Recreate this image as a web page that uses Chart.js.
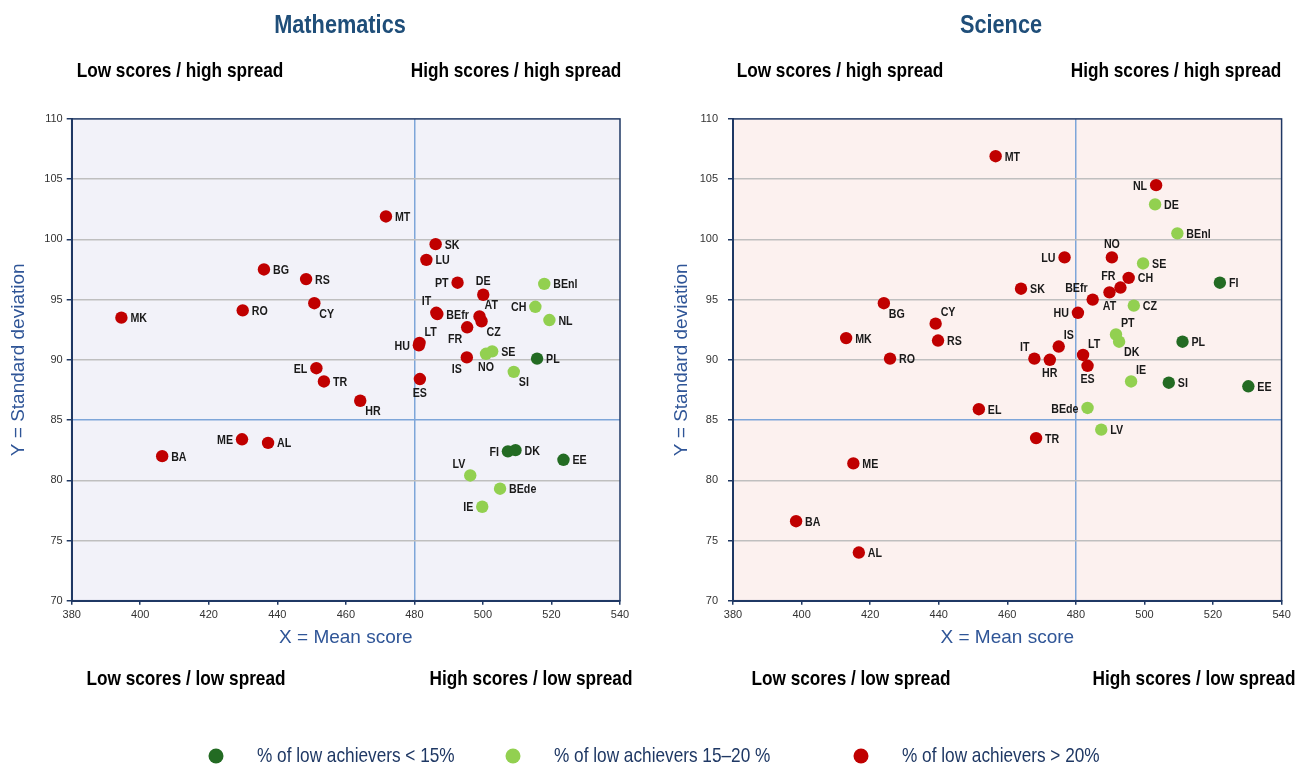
<!DOCTYPE html>
<html><head><meta charset="utf-8">
<script src="https://cdn.jsdelivr.net/npm/chart.js@4.4.1/dist/chart.umd.min.js"></script>
<style>
html,body{margin:0;padding:0;background:#fff;width:1298px;height:765px;overflow:hidden;position:relative;font-family:"Liberation Sans Narrow","Arial Narrow","Liberation Sans",Arial,sans-serif}
.t{position:absolute;white-space:nowrap;transform:translate(-50%,-50%) scaleX(0.82)}
.title{font-weight:bold;font-size:26.5px;color:#1F4E79}
.quad{font-weight:bold;font-size:21px;color:#000}
.leg{position:absolute;white-space:nowrap;font-size:21px;color:#1F3864;transform-origin:0 50%;transform:translate(0,-50%) scaleX(0.82)}
.dot{position:absolute;width:15px;height:15px;border-radius:50%;transform:translate(-50%,-50%)}
canvas{position:absolute;top:0}
</style></head><body>
<canvas id="c1" width="649" height="765" style="left:0"></canvas>
<canvas id="c2" width="649" height="765" style="left:649px"></canvas>

<div class="t title" style="left:339.5px;top:24px">Mathematics</div>
<div class="t title" style="left:1001px;top:24px">Science</div>

<div class="t quad" style="left:180px;top:70px">Low scores / high spread</div>
<div class="t quad" style="left:516px;top:70px">High scores / high spread</div>
<div class="t quad" style="left:186px;top:678px">Low scores / low spread</div>
<div class="t quad" style="left:530.5px;top:678px">High scores / low spread</div>
<div class="t quad" style="left:840px;top:70px">Low scores / high spread</div>
<div class="t quad" style="left:1176px;top:70px">High scores / high spread</div>
<div class="t quad" style="left:850.5px;top:678px">Low scores / low spread</div>
<div class="t quad" style="left:1194px;top:678px">High scores / low spread</div>

<div class="dot" style="left:215.7px;top:756px;background:#236B23"></div>
<div class="leg" id="lg0" style="left:257px;top:755px"></div>
<div class="dot" style="left:513.3px;top:755.5px;background:#92D050"></div>
<div class="leg" id="lg1" style="left:554px;top:755px"></div>
<div class="dot" style="left:860.7px;top:756px;background:#C00000"></div>
<div class="leg" id="lg2" style="left:902px;top:755px"></div>

<script>
// ---------- DATA ----------
const xTickValues = [380, 400, 420, 440, 460, 480, 500, 520, 540];
const yTickValues = [70, 75, 80, 85, 90, 95, 100, 105, 110];
const groupLabels = ['% of low achievers < 15%', '% of low achievers 15–20 %', '% of low achievers > 20%'];

// group: 0 = < 15 %, 1 = 15–20 %, 2 = > 20 %
const mathCodes = ['MK','BA','RO','ME','AL','BG','RS','CY','EL','TR','HR','MT','HU','LT','ES','LU','SK','IT','BEfr','PT','FR','IS','AT','CZ','DE','NO','SE','IE','LV','BEde','SI','FI','DK','CH','PL','BEnl','NL','EE'];
const mathMean  = [394.5,406.4,429.9,429.7,437.3,436.1,448.4,450.8,451.4,453.6,464.2,471.7,481.3,481.5,481.6,483.5,486.2,486.4,486.7,492.6,495.4,495.3,499.0,499.6,500.1,500.9,502.7,499.8,496.3,505.0,509.0,507.3,509.5,515.3,515.8,517.9,519.4,523.5];
const mathSD    = [93.5,82.0,94.1,83.4,83.1,97.5,96.7,94.7,89.3,88.2,86.6,101.9,91.2,91.4,88.4,98.3,99.6,93.9,93.8,96.4,92.7,90.2,93.6,93.2,95.4,90.5,90.7,77.8,80.4,79.3,89.0,82.4,82.5,94.4,90.1,96.3,93.3,81.7];
const mathGroup = [2,2,2,2,2,2,2,2,2,2,2,2,2,2,2,2,2,2,2,2,2,2,2,2,2,1,1,1,1,1,1,0,0,1,0,1,1,0];

const sciCodes = ['BA','AL','MK','ME','RO','BG','RS','CY','EL','MT','SK','IT','TR','HR','IS','LU','HU','LT','ES','BEde','BEfr','LV','AT','NO','FR','PT','DK','CH','CZ','IE','SE','DE','NL','SI','BEnl','PL','FI','EE'];
const sciMean  = [398.4,416.7,413.0,415.1,425.8,424.0,439.8,439.1,451.7,456.6,464.0,467.9,468.4,472.4,475.0,476.7,480.6,482.1,483.4,483.4,484.9,487.4,489.8,490.5,493.0,491.7,492.6,495.4,496.9,496.1,499.6,503.1,503.4,507.1,509.6,511.1,522.0,530.3];
const sciSD    = [76.6,74.0,91.8,81.4,90.1,94.7,91.6,93.0,85.9,106.9,95.9,90.1,83.5,90.0,91.1,98.5,93.9,90.4,89.5,86.0,95.0,84.2,95.6,98.5,96.0,92.1,91.5,96.8,94.5,88.2,98.0,102.9,104.5,88.1,100.5,91.5,96.4,87.8];
const sciGroup = [2,2,2,2,2,2,2,2,2,2,2,2,2,2,2,2,2,2,2,1,2,1,2,2,2,1,1,2,1,1,1,1,2,0,1,0,0,0];

// ---------- STYLE ----------
const REGULAR = '"Liberation Sans",Arial,sans-serif';
const NARROW_X = 0.82;
const groupColors = ['#236B23', '#92D050', '#C00000'];
const NAVY = '#1F3864';
const AXIS_BLUE = '#7EA6D9';

const mathPlace = {MT:'r',SK:'r',LU:'r',BG:'r',RS:'r',RO:'r',MK:'r',CY:'br',HU:'l',LT:'tr',ES:'b',IS:'bl',NO:'b',SE:'r',PL:'r',SI:'br',CH:'l',NL:'r',BEnl:'r',DE:'t',PT:'l',IT:'tl',BEfr:'r',AT:'tr',CZ:'br',FR:'bl',EL:'l',TR:'r',HR:'br',ME:'l',AL:'r',BA:'r',FI:'l',DK:'r',EE:'r',LV:'tl',BEde:'r',IE:'l'};
const sciPlace = {MT:'r',NL:'l',DE:'r',BEnl:'r',NO:'t',LU:'l',SE:'r',CH:'r',FR:'tl',AT:'b',BEfr:'tl',FI:'r',CZ:'r',HU:'l',PT:'tr',DK:'br',PL:'r',IS:'tr',LT:'tr',ES:'b',HR:'b',IT:'tl',IE:'tr',SI:'r',EE:'r',BEde:'l',LV:'r',EL:'r',TR:'r',ME:'r',BA:'r',AL:'r',SK:'r',BG:'br',CY:'tr',RS:'r',MK:'r',RO:'r'};
const placeOffsets = {r:[9,1,'left'], l:[-9,1,'right'], t:[0,-13,'center'], b:[0,14,'center'], tr:[5,-11,'left'], tl:[-5,-11,'right'], br:[5,11,'left'], bl:[-5,12,'right']};

for (let g = 0; g < 3; g++) document.getElementById('lg' + g).textContent = groupLabels[g];

function makeDatasets(codes, means, sds, groups) {
  return [0, 1, 2].map(g => {
    const idx = codes.map((c, i) => i).filter(i => groups[i] === g);
    return {
      label: groupLabels[g],
      data: idx.map(i => ({x: means[i], y: sds[i]})),
      codes: idx.map(i => codes[i]),
      backgroundColor: groupColors[g],
      borderColor: groupColors[g],
      borderWidth: 0,
      pointRadius: 6.2,
      pointHoverRadius: 6.2
    };
  });
}

const framePlugin = {
  id: 'frame',
  beforeDraw(chart, args, opts) {
    const {ctx, chartArea: a} = chart;
    ctx.save();
    ctx.fillStyle = opts.bg;
    ctx.fillRect(a.left, a.top, a.right - a.left, a.bottom - a.top);
    ctx.restore();
  },
  beforeDatasetsDraw(chart) {
    const {ctx, chartArea: a} = chart;
    ctx.save();
    ctx.strokeStyle = NAVY;
    ctx.lineWidth = 1.5;
    ctx.strokeRect(a.left, a.top, a.right - a.left, a.bottom - a.top);
    ctx.restore();
  }
};

const codeLabelPlugin = {
  id: 'codeLabels',
  afterDatasetsDraw(chart, args, opts) {
    const ctx = chart.ctx;
    chart.data.datasets.forEach((ds, di) => {
      const meta = chart.getDatasetMeta(di);
      meta.data.forEach((el, j) => {
        const code = ds.codes[j];
        const o = placeOffsets[opts.place[code] || 'r'];
        ctx.save();
        ctx.font = 'bold 13px ' + REGULAR;
        ctx.fillStyle = '#1a1a1a';
        ctx.textBaseline = 'middle';
        ctx.textAlign = o[2];
        ctx.translate(el.x + o[0], el.y + o[1]);
        ctx.scale(NARROW_X, 1);
        ctx.fillText(code, 0, 0);
        ctx.restore();
      });
    });
  }
};

function makeChart(id, datasets, bg, place, padLeft, padRight, yTitlePad, yTickPad) {
  return new Chart(document.getElementById(id), {
    type: 'scatter',
    data: {datasets},
    options: {
      responsive: false,
      animation: false,
      events: [],
      layout: {padding: {left: padLeft, right: padRight, top: 118.9, bottom: 114.3}},
      plugins: {
        legend: {display: false},
        tooltip: {enabled: false},
        frame: {bg},
        codeLabels: {place}
      },
      scales: {
        x: {
          type: 'linear', min: 380, max: 540,
          afterBuildTicks: s => { s.ticks = xTickValues.map(v => ({value: v})); },
          afterFit: s => { s.height = 50; },
          border: {color: NAVY, width: 2},
          grid: {
            color: c => (c.tick && c.tick.value === 480) ? AXIS_BLUE : 'rgba(0,0,0,0)',
            lineWidth: 1.5, tickColor: NAVY, tickLength: 4, drawTicks: true
          },
          ticks: {color: '#333', font: {family: REGULAR, size: 11}, padding: 4},
          title: {display: true, text: 'X = Mean score', color: '#2F5597', font: {family: REGULAR, size: 19}, padding: {top: 0, bottom: 2}}
        },
        y: {
          type: 'linear', min: 70, max: 110,
          afterBuildTicks: s => { s.ticks = yTickValues.map(v => ({value: v})); },
          afterFit: s => { s.width = 71.7; },
          border: {color: NAVY, width: 2},
          grid: {
            color: c => {
              const v = c.tick ? c.tick.value : null;
              if (v === 85) return AXIS_BLUE;
              if (v === 70 || v === 110) return 'rgba(0,0,0,0)';
              return '#BFBFBF';
            },
            lineWidth: 1.5, tickColor: NAVY, tickLength: 5
          },
          ticks: {color: '#333', font: {family: REGULAR, size: 11}, padding: yTickPad},
          title: {display: true, text: 'Y = Standard deviation', color: '#2F5597', font: {family: REGULAR, size: 19}, padding: {top: yTitlePad, bottom: 0}}
        }
      }
    },
    plugins: [framePlugin, codeLabelPlugin]
  });
}

makeChart('c1', makeDatasets(mathCodes, mathMean, mathSD, mathGroup), '#F2F2F9', mathPlace, 0, 29, 6.9, 4);
makeChart('c2', makeDatasets(sciCodes, sciMean, sciSD, sciGroup), '#FCF1EF', sciPlace, 12.3, 16.4, 9.3, 10);
</script>
</body></html>
